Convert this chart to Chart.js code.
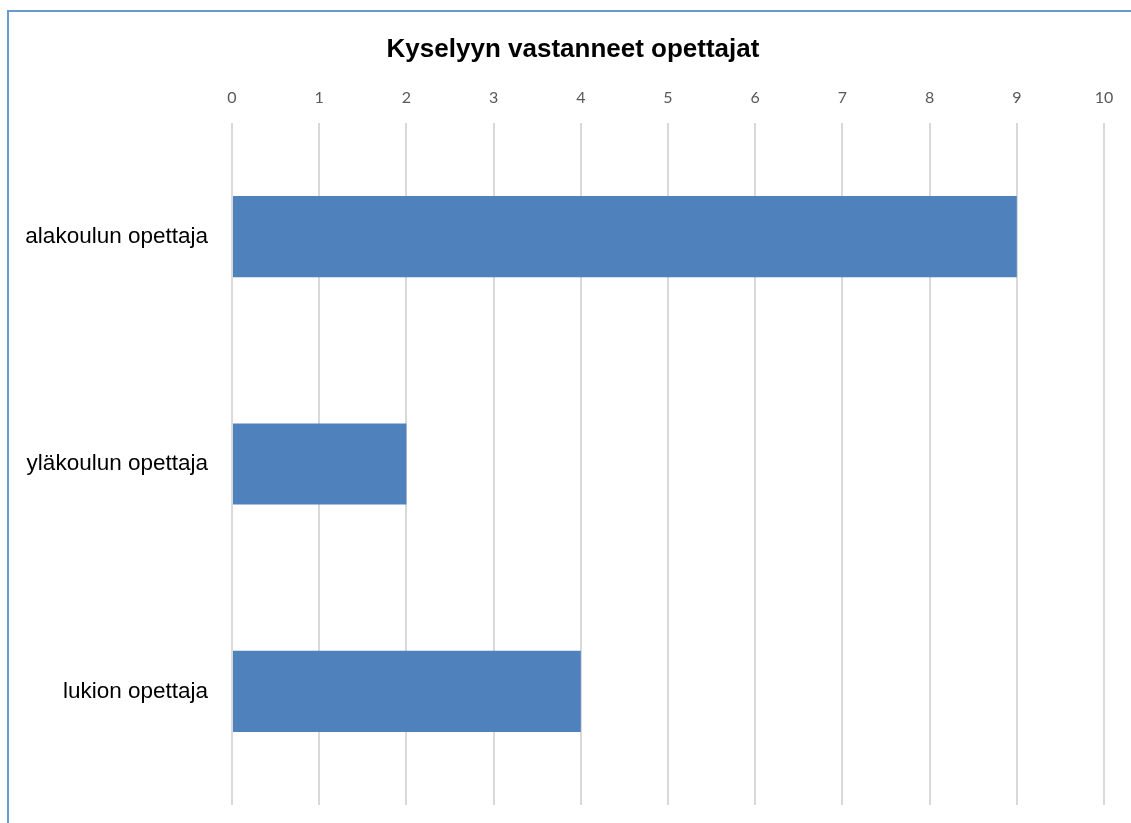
<!DOCTYPE html>
<html>
<head>
<meta charset="utf-8">
<script src="https://cdn.jsdelivr.net/npm/chart.js@4"></script>
<style>
  html, body { margin: 0; padding: 0; background: #fff; }
  #wrap { position: relative; width: 1131px; height: 823px; }
  #frame { position: absolute; left: 7px; top: 10px; right: -10px; bottom: -10px;
           border-left: 2px solid #6a98cf; border-top: 2px solid #6a98cf; }
  canvas { position: absolute; left: 0; top: 0; }
</style>
</head>
<body>
<div id="wrap">
  <div id="frame"></div>
  <canvas id="chart" width="1131" height="823"></canvas>
</div>
<script>
const title = "Kyselyyn vastanneet opettajat";
const categories = ["alakoulun opettaja", "yläkoulun opettaja", "lukion opettaja"];
const counts = [9, 2, 4];
const axisMin = 0;
const axisMax = 10;

// the title sits centred on the whole (wider) chart frame, not on the plot
const titlePlugin = {
  id: "frameTitle",
  afterDraw(chart) {
    const ctx = chart.ctx;
    ctx.save();
    ctx.font = "bold 26px 'Liberation Sans'";
    ctx.fillStyle = "#000";
    ctx.textAlign = "center";
    ctx.textBaseline = "middle";
    ctx.fillText(title, 573, 50);
    ctx.restore();
  }
};

new Chart(document.getElementById("chart"), {
  type: "bar",
  data: {
    labels: categories,
    datasets: [{
      data: counts,
      backgroundColor: "#4f81bd",
      borderWidth: 0,
      categoryPercentage: 1,
      barPercentage: 0.357
    }]
  },
  options: {
    indexAxis: "y",
    responsive: false,
    animation: false,
    layout: { padding: { top: 83, right: 27, bottom: 18, left: 0 } },
    plugins: {
      legend: { display: false },
      tooltip: { enabled: false },
      title: { display: false }
    },
    scales: {
      x: {
        position: "top",
        min: axisMin,
        max: axisMax,
        ticks: {
          stepSize: 1,
          padding: 16,
          color: "#595959",
          font: { family: "Lato", size: 16 }
        },
        grid: { color: "#d9d9d9", lineWidth: 2, drawTicks: false },
        border: { display: false },
        afterFit: s => { s.height = 40; }
      },
      y: {
        ticks: {
          padding: 24,
          color: "#000",
          font: { family: "Liberation Sans", size: 22.5 }
        },
        grid: { display: false, drawTicks: false },
        border: { display: false },
        afterFit: s => {
          s.width = 232;
          s.paddingTop = 0;
          s.paddingBottom = 0;
        }
      }
    }
  },
  plugins: [titlePlugin]
});
</script>
</body>
</html>
